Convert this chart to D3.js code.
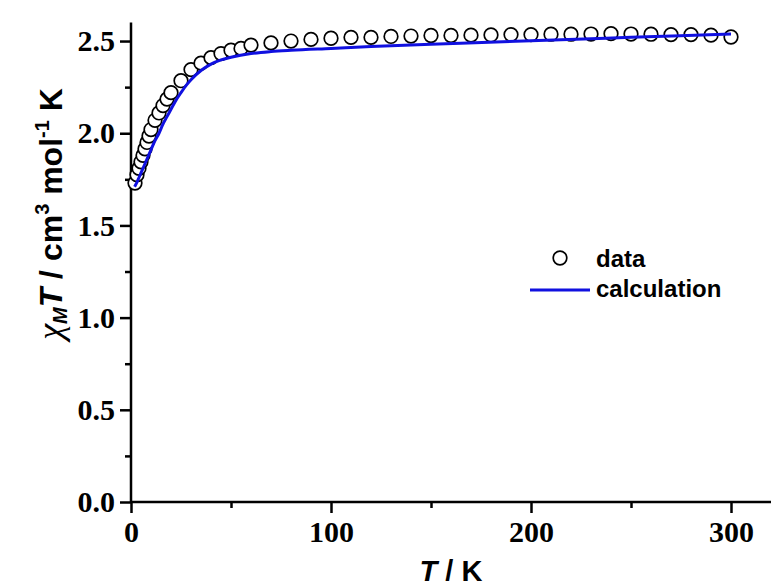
<!DOCTYPE html>
<html lang="en">
<head>
  <meta charset="UTF-8">
  <title>chiMT vs T</title>
  <script src="https://d3js.org/d3.v7.min.js"></script>
  <style>
    html, body {
      margin: 0;
      padding: 0;
      background: white;
      overflow: hidden;
    }
    svg { display: block; }
    .tick-label {
      font-family: "Liberation Serif", "Times New Roman", serif;
      font-weight: bold;
      font-size: 30px;
    }
    .sans {
      font-family: "Liberation Sans", Arial, sans-serif;
      font-weight: bold;
    }
  </style>
</head>
<body>
<svg width="771" height="587"></svg>

<script>
// measured data (T in K, chiM*T in cm3 mol-1 K)
const dataT = [2, 3, 4, 5, 6, 7, 8, 9, 10, 12, 14, 16, 18, 20, 25, 30, 35, 40, 45, 50, 55, 60,
  70, 80, 90, 100, 110, 120, 130, 140, 150, 160, 170, 180, 190, 200,
  210, 220, 230, 240, 250, 260, 270, 280, 290, 300];
const dataChiT = [1.73, 1.775, 1.81, 1.845, 1.88, 1.915, 1.95, 1.985, 2.02, 2.07, 2.11, 2.15, 2.185, 2.22,
  2.285, 2.345, 2.38, 2.41, 2.432, 2.45, 2.46, 2.478,
  2.49, 2.50, 2.509, 2.515, 2.52, 2.52, 2.525, 2.527, 2.53, 2.53, 2.532, 2.533, 2.535, 2.535,
  2.537, 2.537, 2.538, 2.54, 2.538, 2.537, 2.535, 2.535, 2.532, 2.522];

// calculated curve
const calcT = [1.8, 3, 4, 5, 6, 8, 10, 12, 14, 16, 18, 20, 22, 25, 28, 30, 35, 40, 45, 50,
  60, 70, 80, 100, 120, 150, 200, 250, 300];
const calcChiT = [1.71, 1.735, 1.76, 1.785, 1.81, 1.86, 1.91, 1.96, 2.0, 2.05, 2.09, 2.13, 2.17,
  2.22, 2.265, 2.29, 2.34, 2.375, 2.398, 2.412, 2.432, 2.443, 2.45, 2.46, 2.47, 2.482,
  2.502, 2.52, 2.538];

const xTicks = [0, 100, 200, 300];
const xMinor = [50, 150, 250];
const yTicks = [0, 0.5, 1.0, 1.5, 2.0, 2.5];
const yMinor = [0.25, 0.75, 1.25, 1.75, 2.25];

const svg = d3.select("svg");

const x = d3.scaleLinear().domain([0, 320]).range([131, 771]);
const y = d3.scaleLinear().domain([0, 2.6]).range([502, 22.6]);

// axes
const xAxis = svg.append("g").attr("transform", `translate(0,${y(0)})`)
  .call(d3.axisBottom(x).tickValues(xTicks).tickFormat(d3.format("d")).tickSize(11).tickPadding(8));
const xAxisMinor = svg.append("g").attr("transform", `translate(0,${y(0)})`)
  .call(d3.axisBottom(x).tickValues(xMinor).tickFormat("").tickSize(6));
const yAxis = svg.append("g").attr("transform", `translate(${x(0)},0)`)
  .call(d3.axisLeft(y).tickValues(yTicks).tickFormat(d3.format(".1f")).tickSize(11).tickPadding(5));
const yAxisMinor = svg.append("g").attr("transform", `translate(${x(0)},0)`)
  .call(d3.axisLeft(y).tickValues(yMinor).tickFormat("").tickSize(6));

[xAxis, xAxisMinor, yAxis, yAxisMinor].forEach(g => {
  g.select(".domain").attr("stroke", "#000").attr("stroke-width", 2.5);
  g.selectAll(".tick line").attr("stroke", "#000").attr("stroke-width", 2.5);
  g.selectAll(".tick text").attr("class", "tick-label").attr("fill", "#000");
});
xAxisMinor.select(".domain").remove();
yAxisMinor.select(".domain").remove();
xAxis.select(".domain").attr("d", `M${x(0)},0H771`);
yAxis.select(".domain").attr("d", `M0,${y(0)}V${y(2.6)}`);

// data points
const pts = dataT.map((t, i) => ({ t: t, v: dataChiT[i] }));
svg.append("g")
  .selectAll("circle")
  .data(pts)
  .join("circle")
  .attr("cx", d => x(d.t))
  .attr("cy", d => y(d.v))
  .attr("r", 6.8)
  .attr("fill", "white")
  .attr("stroke", "#000")
  .attr("stroke-width", 1.7);

// calculation line
const calc = calcT.map((t, i) => ({ t: t, v: calcChiT[i] }));
const line = d3.line().x(d => x(d.t)).y(d => y(d.v)).curve(d3.curveMonotoneX);
svg.append("path")
  .datum(calc)
  .attr("d", line)
  .attr("fill", "none")
  .attr("stroke", "#1010e0")
  .attr("stroke-width", 3);

// legend
svg.append("circle").attr("cx", 560).attr("cy", 258).attr("r", 6.8)
  .attr("fill", "white").attr("stroke", "#000").attr("stroke-width", 1.7);
svg.append("text").attr("class", "sans").attr("x", 596).attr("y", 267)
  .attr("font-size", 24).text("data");
svg.append("line").attr("x1", 530).attr("x2", 590).attr("y1", 290).attr("y2", 290)
  .attr("stroke", "#1010e0").attr("stroke-width", 3);
svg.append("text").attr("class", "sans").attr("x", 596).attr("y", 297)
  .attr("font-size", 24).text("calculation");

// x title
const xt = svg.append("text").attr("class", "sans")
  .attr("x", (x(0) + 771) / 2).attr("y", 581)
  .attr("text-anchor", "middle").attr("font-size", 29);
xt.append("tspan").attr("font-style", "italic").text("T");
xt.append("tspan").text(" / K");

// y title
const yt = svg.append("text").attr("class", "sans")
  .attr("transform", "translate(62,214) rotate(-90)")
  .attr("text-anchor", "middle").attr("font-size", 32);
yt.append("tspan").attr("font-family", "'Liberation Serif', serif").attr("font-weight", "normal")
  .attr("font-style", "italic").attr("font-size", 36).text("χ");
yt.append("tspan").attr("font-style", "italic").attr("font-size", 20).attr("dy", 5).text("M");
yt.append("tspan").attr("font-style", "italic").attr("dy", -5).text("T");
yt.append("tspan").text(" / cm");
yt.append("tspan").attr("font-size", 20).attr("dy", -13).text("3");
yt.append("tspan").attr("dy", 13).text(" mol");
yt.append("tspan").attr("font-size", 20).attr("dy", -13).text("-1");
yt.append("tspan").attr("dy", 13).text(" K");
</script>
</body>
</html>
